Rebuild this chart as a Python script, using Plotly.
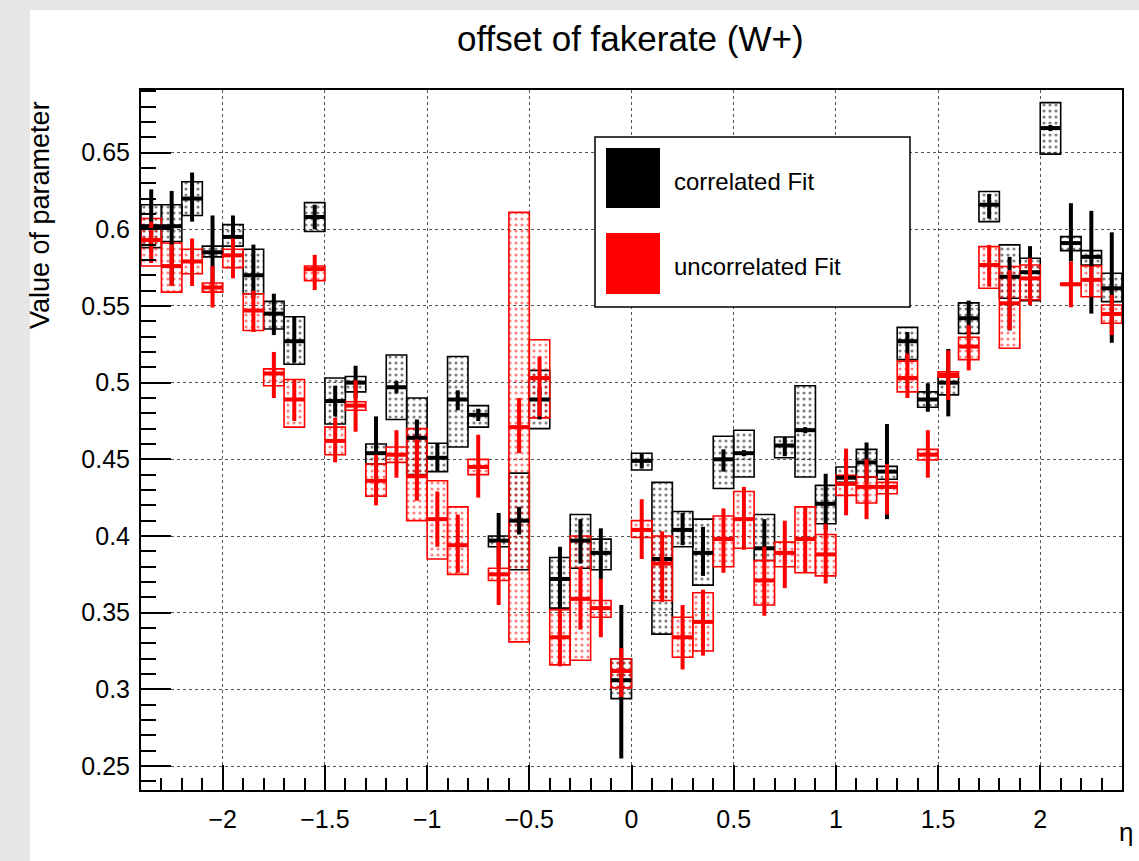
import plotly.graph_objects as go

# eta bin centres (48 bins of width 0.1)
eta = [round(-2.35 + 0.1 * i, 2) for i in range(48)]

# correlated fit (black): value, stat band ends, syst box ends
cor_val = [0.602, 0.602, 0.620, 0.585, 0.595, 0.570, 0.545, 0.527, 0.608, 0.488, 0.500, 0.454,
           0.497, 0.464, 0.451, 0.489, 0.479, 0.397, 0.410, 0.489, 0.372, 0.397, 0.389, 0.306,
           0.449, 0.385, 0.404, 0.389, 0.450, 0.454, 0.392, 0.459, 0.469, 0.421, 0.438, 0.448,
           0.442, 0.527, 0.489, 0.500, 0.542, 0.616, 0.569, 0.572, 0.666, 0.591, 0.582, 0.5615]
cor_stat_lo = [0.585, 0.563, 0.605, 0.565, 0.582, 0.555, 0.531, 0.513, 0.600, 0.478, 0.490, 0.440,
               0.493, 0.458, 0.442, 0.482, 0.475, 0.380, 0.401, 0.476, 0.353, 0.382, 0.372, 0.255,
               0.444, 0.380, 0.394, 0.374, 0.442, 0.452, 0.385, 0.452, 0.467, 0.404, 0.425, 0.435,
               0.411, 0.515, 0.481, 0.478, 0.532, 0.607, 0.534, 0.5506, 0.664, 0.579, 0.545, 0.526]
cor_stat_hi = [0.626, 0.625, 0.637, 0.609, 0.609, 0.590, 0.558, 0.543, 0.616, 0.498, 0.511, 0.478,
               0.501, 0.476, 0.4605, 0.495, 0.483, 0.415, 0.419, 0.497, 0.393, 0.411, 0.405, 0.355,
               0.454, 0.390, 0.415, 0.406, 0.4565, 0.456, 0.411, 0.4646, 0.471, 0.4406, 0.452, 0.461,
               0.473, 0.533, 0.4996, 0.522, 0.5535, 0.623, 0.582, 0.589, 0.668, 0.617, 0.612, 0.598]
cor_sys_lo = [0.588, 0.592, 0.609, 0.582, 0.589, 0.558, 0.535, 0.512, 0.5985, 0.473, 0.494, 0.447,
              0.476, 0.440, 0.442, 0.458, 0.471, 0.393, 0.378, 0.470, 0.353, 0.379, 0.378, 0.294,
              0.443, 0.336, 0.393, 0.368, 0.431, 0.4385, 0.384, 0.451, 0.4385, 0.408, 0.435, 0.4385,
              0.437, 0.515, 0.484, 0.492, 0.532, 0.605, 0.555, 0.5535, 0.649, 0.5861, 0.5767, 0.5528]
cor_sys_hi = [0.616, 0.616, 0.631, 0.589, 0.603, 0.587, 0.553, 0.543, 0.6174, 0.503, 0.504, 0.460,
              0.518, 0.490, 0.4605, 0.517, 0.485, 0.400, 0.441, 0.508, 0.386, 0.414, 0.398, 0.320,
              0.454, 0.435, 0.416, 0.411, 0.465, 0.469, 0.414, 0.4646, 0.498, 0.433, 0.445, 0.4565,
              0.4454, 0.536, 0.494, 0.5035, 0.552, 0.6246, 0.5898, 0.5811, 0.6826, 0.5952, 0.5861, 0.5713]

# uncorrelated fit (red); bin at eta=2.05 has no point
unc_val = [0.593, 0.576, 0.579, 0.562, 0.583, 0.547, 0.506, 0.489, 0.574, 0.462, 0.485, 0.436,
           0.453, 0.439, 0.411, 0.394, 0.445, 0.375, 0.471, 0.503, 0.334, 0.359, 0.353, 0.312,
           0.404, 0.382, 0.334, 0.344, 0.398, 0.411, 0.371, 0.389, 0.398, 0.388, 0.434, 0.432,
           0.432, 0.503, 0.453, 0.505, 0.5235, 0.5767, 0.5517, 0.568, None, 0.5641, 0.567, 0.5448]
unc_stat_lo = [0.578, 0.563, 0.563, 0.549, 0.568, 0.533, 0.490, 0.475, 0.5604, 0.448, 0.468, 0.420,
               0.438, 0.423, 0.393, 0.376, 0.425, 0.355, 0.454, 0.478, 0.315, 0.339, 0.334, 0.295,
               0.385, 0.357, 0.313, 0.322, 0.376, 0.391, 0.348, 0.366, 0.376, 0.369, 0.4135, 0.411,
               0.414, 0.490, 0.438, 0.4887, 0.508, 0.5626, 0.5343, 0.5506, None, 0.5491, 0.556, 0.531]
unc_stat_hi = [0.605, 0.590, 0.594, 0.576, 0.594, 0.560, 0.520, 0.502, 0.5833, 0.477, 0.5015, 0.453,
               0.469, 0.463, 0.429, 0.414, 0.466, 0.396, 0.490, 0.517, 0.352, 0.380, 0.372, 0.327,
               0.424, 0.403, 0.355, 0.365, 0.418, 0.432, 0.393, 0.410, 0.419, 0.408, 0.457, 0.450,
               0.447, 0.519, 0.469, 0.521, 0.5376, 0.5898, 0.5735, 0.5811, None, 0.5789, 0.576, 0.5572]
unc_sys_lo = [0.576, 0.559, 0.571, 0.559, 0.575, 0.534, 0.498, 0.471, 0.5665, 0.453, 0.482, 0.426,
              0.448, 0.410, 0.385, 0.375, 0.440, 0.371, 0.331, 0.477, 0.316, 0.319, 0.347, 0.301,
              0.399, 0.358, 0.321, 0.325, 0.380, 0.392, 0.355, 0.380, 0.376, 0.374, 0.4265, 0.4215,
              0.4276, 0.494, 0.4496, 0.5035, 0.515, 0.5615, 0.5224, 0.554, None, 0.5635, 0.556, 0.5387]
unc_sys_hi = [0.607, 0.591, 0.587, 0.565, 0.587, 0.558, 0.509, 0.502, 0.576, 0.471, 0.4875, 0.447,
              0.458, 0.470, 0.436, 0.419, 0.450, 0.379, 0.611, 0.528, 0.352, 0.400, 0.358, 0.320,
              0.410, 0.400, 0.347, 0.363, 0.413, 0.429, 0.384, 0.396, 0.419, 0.401, 0.4396, 0.4385,
              0.435, 0.514, 0.4565, 0.507, 0.5296, 0.5887, 0.5757, 0.5767, None, 0.5647, 0.5761, 0.5506]

x_ticks = [-2, -1.5, -1, -0.5, 0, 0.5, 1, 1.5, 2]
x_tick_labels = ["\u22122", "\u22121.5", "\u22121", "\u22120.5", "0", "0.5", "1", "1.5", "2"]
y_ticks = [0.25, 0.3, 0.35, 0.4, 0.45, 0.5, 0.55, 0.6, 0.65]
y_tick_labels = ["0.25", "0.3", "0.35", "0.4", "0.45", "0.5", "0.55", "0.6", "0.65"]

FONT = "Liberation Sans, Arial, sans-serif"


def add_series(fig, val, slo, shi, ylo, yhi, color):
    idx = [i for i, v in enumerate(val) if v is not None]
    xs = [eta[i] for i in idx]
    fig.add_trace(go.Bar(
        x=xs, y=[yhi[i] - ylo[i] for i in idx], base=[ylo[i] for i in idx],
        width=0.1, showlegend=False, hoverinfo="skip",
        marker=dict(color="rgba(0,0,0,0)",
                    line=dict(color=color, width=1.6),
                    pattern=dict(shape=".", fgcolor=color, bgcolor="rgba(255,255,255,0)",
                                 size=6, solidity=0.22, fillmode="overlay")),
    ))
    fig.add_trace(go.Scatter(
        x=xs, y=[val[i] for i in idx], mode="markers", showlegend=False,
        marker=dict(size=1, color=color),
        error_y=dict(type="data", symmetric=False,
                     array=[shi[i] - val[i] for i in idx],
                     arrayminus=[val[i] - slo[i] for i in idx],
                     width=0, thickness=4, color=color),
        error_x=dict(type="constant", value=0.05, width=0, thickness=4, color=color),
    ))


fig = go.Figure()
add_series(fig, cor_val, cor_stat_lo, cor_stat_hi, cor_sys_lo, cor_sys_hi, "black")
add_series(fig, unc_val, unc_stat_lo, unc_stat_hi, unc_sys_lo, unc_sys_hi, "red")

L, R, T, B = 141, 17, 90, 71
W, H = 1139, 861
pw, ph = W - L - R, H - T - B


def px(xp):
    return (xp - L) / pw


def py(yp):
    return (H - B - yp) / ph


shapes = [
    dict(type="rect", xref="paper", yref="paper", x0=px(30), x1=px(1139), y0=py(861), y1=py(10),
         fillcolor="white", line=dict(width=0), layer="below"),
    dict(type="rect", xref="paper", yref="paper", x0=px(595), x1=px(910), y0=py(307), y1=py(137),
         fillcolor="white", line=dict(color="black", width=1.5)),
    dict(type="rect", xref="paper", yref="paper", x0=px(606), x1=px(660), y0=py(208), y1=py(148),
         fillcolor="black", line=dict(width=0)),
    dict(type="rect", xref="paper", yref="paper", x0=px(606), x1=px(660), y0=py(294), y1=py(233),
         fillcolor="red", line=dict(width=0)),
]

annotations = [
    dict(text="offset of fakerate (W+)", xref="paper", yref="paper", x=px(630), y=py(38),
         showarrow=False, font=dict(family=FONT, size=35, color="black"),
         xanchor="center", yanchor="middle"),
    dict(text="Value of parameter", xref="paper", yref="paper", x=px(40), y=py(215),
         showarrow=False, textangle=-90, font=dict(family=FONT, size=27, color="black"),
         xanchor="center", yanchor="middle"),
    dict(text="\u03b7", xref="paper", yref="paper", x=px(1126), y=py(832),
         showarrow=False, font=dict(family=FONT, size=26, color="black"),
         xanchor="center", yanchor="middle"),
    dict(text="correlated Fit", xref="paper", yref="paper", x=px(672), y=py(181),
         showarrow=False, font=dict(family=FONT, size=24, color="black"),
         xanchor="left", yanchor="middle"),
    dict(text="uncorrelated Fit", xref="paper", yref="paper", x=px(672), y=py(266),
         showarrow=False, font=dict(family=FONT, size=24, color="black"),
         xanchor="left", yanchor="middle"),
]

fig.update_layout(
    width=W, height=H,
    margin=dict(l=L, r=R, t=T, b=B),
    paper_bgcolor="#e6e6e6",
    plot_bgcolor="rgba(255,255,255,0)",
    barmode="overlay",
    showlegend=False,
    shapes=shapes,
    annotations=annotations,
    font=dict(family=FONT, size=25, color="black"),
    xaxis=dict(range=[-2.4, 2.4], tickvals=x_ticks, ticktext=x_tick_labels,
               ticks="inside", ticklen=25, tickwidth=1.5, tickcolor="black",
               showline=True, linecolor="black", linewidth=2, mirror=True,
               showgrid=True, gridcolor="#555555", griddash="dot", gridwidth=1,
               zeroline=False, tickfont=dict(size=25), ticklabelstandoff=6,
               minor=dict(ticks="inside", ticklen=12, dtick=0.1, tick0=0,
                          tickcolor="black", tickwidth=1.5, showgrid=False)),
    yaxis=dict(range=[0.2344, 0.6908], tickvals=y_ticks, ticktext=y_tick_labels,
               ticks="inside", ticklen=30, tickwidth=1.5, tickcolor="black",
               showline=True, linecolor="black", linewidth=2, mirror=True,
               showgrid=True, gridcolor="#555555", griddash="dot", gridwidth=1,
               zeroline=False, tickfont=dict(size=25), ticklabelstandoff=4,
               minor=dict(ticks="inside", ticklen=15, dtick=0.01, tick0=0,
                          tickcolor="black", tickwidth=1.5, showgrid=False)),
)

fig.write_html("out.html")
